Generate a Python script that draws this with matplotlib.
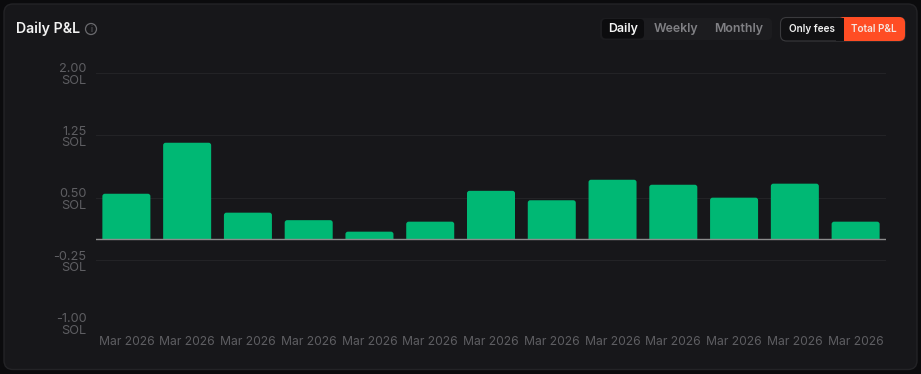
import matplotlib
matplotlib.use("Agg")
import matplotlib.pyplot as plt
from matplotlib.patches import FancyBboxPatch, Rectangle, Circle
from matplotlib.transforms import ScaledTranslation

plt.rcParams["font.family"] = ["Inter", "DejaVu Sans"]

# ── Data ──────────────────────────────────────────────────────
months = ["Mar 2026"] * 13
pnl = [0.545, 1.157, 0.318, 0.228, 0.09, 0.21, 0.58,
       0.467, 0.713, 0.653, 0.498, 0.666, 0.21]
y_ticks = [2.00, 1.25, 0.50, -0.25, -1.00]
y_labels = ["2.00\nSOL", "1.25\nSOL", "0.50\nSOL", "-0.25\nSOL", "-1.00\nSOL"]
periods = ["Daily", "Weekly", "Monthly"]

# ── Colours ───────────────────────────────────────────────────
BG = "#0b0b0d"
CARD = "#17171a"
GREEN = "#00b874"
ORANGE = "#ff4d24"
TICK = "#5e5e62"
GRID = "#232326"

W, H = 921, 374
fig = plt.figure(figsize=(W / 100, H / 100), dpi=100, facecolor=BG)

# overlay in pixel coordinates for the card and the buttons
ui = fig.add_axes([0, 0, 1, 1], zorder=0)
ui.set_xlim(0, W)
ui.set_ylim(H, 0)
ui.axis("off")


def pill(x0, y0, x1, y1, r, fc, ec="none", lw=0):
    ui.add_patch(FancyBboxPatch((x0 + r, y0 + r), x1 - x0 - 2 * r, y1 - y0 - 2 * r,
                                boxstyle=f"round,pad={r},rounding_size={r}",
                                fc=fc, ec=ec, lw=lw))


pill(4, 4, 917, 369.5, 9, CARD, "#232326", 1)

ui.text(16, 29, "Daily P&L", color="#f2f2f2", fontsize=10.2, fontweight="semibold",
        va="center", ha="left")
ui.add_patch(Circle((91, 29), 5.5, fc="none", ec="#6a6a6e", lw=0.9))
ui.text(91, 29, "i", color="#6a6a6e", fontsize=6, va="center", ha="center")

# period switch
pill(600, 18, 772, 40, 5, "#1c1c1f")
pill(602, 19, 644, 38.5, 4, "#0c0c0e")
for name, cx, col in zip(periods, [623, 676, 738.5], ["#f5f5f5", "#808084", "#808084"]):
    ui.text(cx, 29, name, color=col, fontsize=8.9, fontweight="semibold",
            va="center", ha="center")

# fees / total toggle
pill(780.5, 17.5, 905, 41, 6, "#111113", "#3a3a3d", 0.8)
pill(838, 17, 905, 41, 6, ORANGE)
ui.add_patch(Rectangle((844, 17), 10, 24, fc=ORANGE, ec="none"))
ui.add_patch(Rectangle((836, 18), 8, 22.5, fc="#111113", ec="none"))
ui.text(811.5, 28.5, "Only fees", color="#f2f2f2", fontsize=7.2, fontweight="semibold",
        va="center", ha="center")
ui.text(874, 28.5, "Total P&L", color="#f5e6e0", fontsize=7.2, fontweight="semibold",
        va="center", ha="center")

# ── Bar chart ─────────────────────────────────────────────────
ax = fig.add_axes([96 / W, 1 - 322.5 / H, 790 / W, 250 / H], zorder=1)
ax.patch.set_visible(False)
xs = list(range(len(pnl)))
bars = ax.bar(xs, pnl, width=0.79, color=GREEN, zorder=3)
ax.set_xlim(-0.5, len(pnl) - 0.5)
ax.set_ylim(-1.0, 2.0)

# round the top corners, the part under zero is clipped off
aspect = (3.0 / 250) / (13 / 790)
clip = Rectangle((-0.5, 0), 13, 3, transform=ax.transData)
for rect in bars:
    rect.set_visible(False)
    rad = 2.5 * 13 / 790
    patch = FancyBboxPatch((rect.get_x() + rad, -0.1), rect.get_width() - 2 * rad,
                           rect.get_height() + 0.1 - rad * aspect,
                           boxstyle=f"round,pad={rad},rounding_size={rad}",
                           mutation_aspect=aspect, fc=GREEN, ec="none", zorder=3)
    ax.add_patch(patch)
    patch.set_clip_path(clip)

ax.axhline(0, color="#8c8c8c", lw=1, zorder=4)
ax.set_yticks(y_ticks, y_labels, color=TICK, fontsize=9.2, linespacing=0.98, ha="right",
              multialignment="right")
ax.set_xticks(xs, months, color=TICK, fontsize=8.75)
ax.tick_params(axis="both", length=0)
ax.tick_params(axis="y", pad=7)
ax.tick_params(axis="x", pad=10)
# nudge the two-line labels down a pixel
nudge = ScaledTranslation(0, -1 / 100, fig.dpi_scale_trans)
for lab in ax.get_yticklabels():
    lab.set_transform(lab.get_transform() + nudge)
ax.grid(axis="y", color=GRID, lw=0.8, zorder=1)
ax.grid(axis="x", visible=False)
for side in ax.spines.values():
    side.set_visible(False)

fig.savefig("out.png", dpi=100, facecolor=BG)
